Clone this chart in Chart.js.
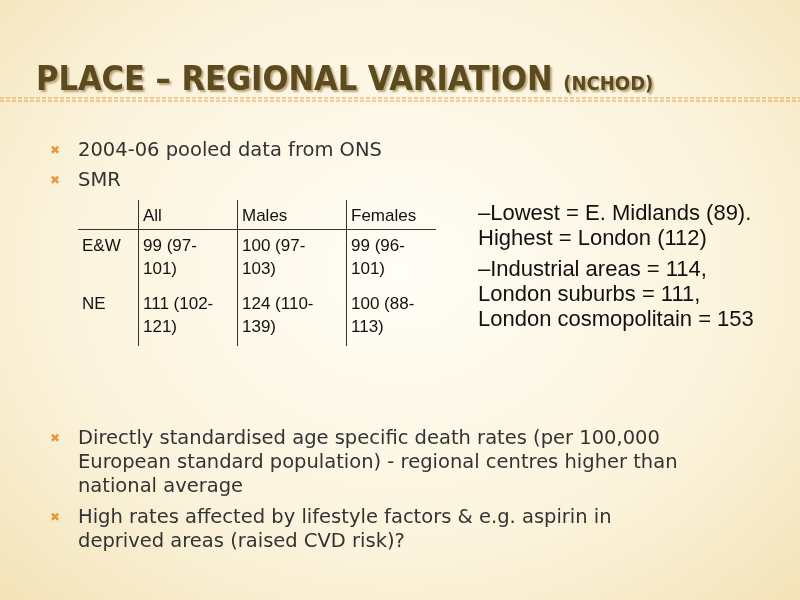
<!DOCTYPE html>
<html><head><meta charset="utf-8">
<script src="https://cdn.jsdelivr.net/npm/chart.js@4/dist/chart.umd.min.js"></script>
<style>
html,body{margin:0;padding:0;width:800px;height:600px;overflow:hidden;}
body{background:radial-gradient(ellipse at 50% 45%,#fffdf6 0%,#fbf3dc 60%,#f3e3b8 100%);font-family:"DejaVu Sans",sans-serif;position:relative;}
#c{position:absolute;left:0;top:0;width:800px;height:600px;}
.t{position:absolute;color:#222;}
#title{left:36px;top:58px;font-family:"DejaVu Sans Condensed","DejaVu Sans",sans-serif;font-weight:bold;font-size:34px;color:#5e4a1f;text-shadow:2px 2px 2px #b9a77a;}
#title small{font-size:20px;}
.b{left:52px;font-size:19.5px;color:#333;line-height:24px;}
.b:before{content:"✖";position:absolute;left:-2px;font-size:12px;color:#e49a3c;}
.b span{display:block;padding-left:26px;}
table{position:absolute;left:78px;top:200px;border-collapse:collapse;font-family:"Liberation Sans",sans-serif;font-size:17px;color:#111;table-layout:fixed;}
td{vertical-align:top;padding:4px 4px 8px 4px;line-height:23px;}
tr:first-child td{border-bottom:1px solid #333;padding-bottom:2px;}
td+td{border-left:1px solid #333;}
#right{left:478px;top:200px;width:285px;font-family:"Liberation Sans",sans-serif;font-size:22px;line-height:25px;color:#111;}
#right p{margin:0 0 6px 0;}
</style></head><body>
<canvas id="c" width="800" height="600"></canvas>
<div class="t" id="title">PLACE – REGIONAL VARIATION <small>(NCHOD)</small></div>
<div class="t b" style="top:138px"><span>2004-06 pooled data from ONS</span></div>
<div class="t b" style="top:168px"><span>SMR</span></div>
<table id="tbl"></table>
<div class="t" id="right"><p>–Lowest = E. Midlands (89).&nbsp; Highest = London (112)</p><p>–Industrial areas = 114, London suburbs = 111, London cosmopolitain = 153</p></div>
<div class="t b" style="top:426px;width:700px"><span style="width:650px">Directly standardised age specific death rates (per 100,000 European standard population) - regional centres higher than national average</span></div>
<div class="t b" style="top:505px;width:700px"><span style="width:620px">High rates affected by lifestyle factors &amp; e.g. aspirin in deprived areas (raised CVD risk)?</span></div>
<script>
const columns=["","All","Males","Females"];
const rowLabels=["E&W","NE"];
const rowValues=[["99 (97-<br>101)","100 (97-<br>103)","99 (96-<br>101)"],["111 (102-<br>121)","124 (110-<br>139)","100 (88-<br>113)"]];
const widths=[52,90,100,81];
let h="<tr>"+columns.map((c,i)=>`<td style="width:${widths[i]}px">${c}</td>`).join("")+"</tr>";
rowLabels.forEach((r,i)=>{h+="<tr><td>"+r+"</td>"+rowValues[i].map(v=>"<td>"+v+"</td>").join("")+"</tr>";});
document.getElementById("tbl").innerHTML=h;
const deco={id:'deco',afterDraw(ch){const x=ch.ctx;x.save();x.strokeStyle='#e8a040';x.lineWidth=1;
[98,101].forEach(y=>{x.setLineDash([4,2]);x.beginPath();x.moveTo(0,y);x.lineTo(800,y);x.stroke();});
x.restore();}};
new Chart(document.getElementById('c'),{type:'scatter',data:{datasets:[{data:[]}]},
options:{responsive:false,animation:false,plugins:{legend:{display:false},tooltip:{enabled:false}},
scales:{x:{display:false},y:{display:false}}},plugins:[deco]});
</script>
</body></html>
